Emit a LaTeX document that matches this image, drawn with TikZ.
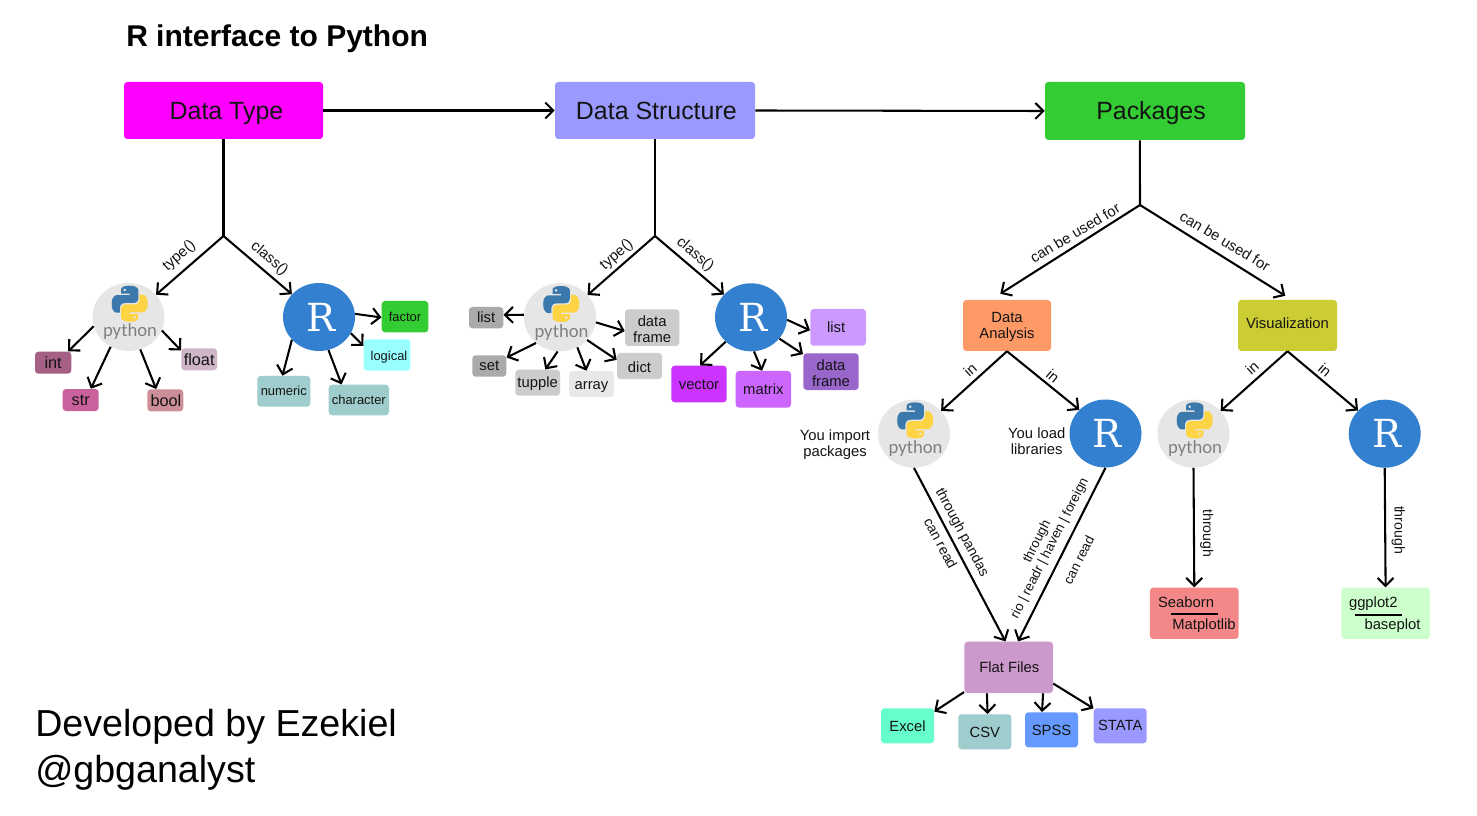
\documentclass[tikz,border=0pt]{standalone}
\usepackage{fontspec}
\setmainfont{Liberation Sans}
\newfontfamily\pyfont{Carlito}
\newfontfamily\rfont{DejaVu Serif}
\usetikzlibrary{arrows.meta,shapes.geometric}
\definecolor{cmag}{HTML}{FF00FF}
\definecolor{cds}{HTML}{9999FF}
\definecolor{cpk}{HTML}{33CC33}
\definecolor{cint}{HTML}{A65F85}
\definecolor{cstr}{HTML}{C9629C}
\definecolor{cbool}{HTML}{CC8F98}
\definecolor{cfloat}{HTML}{CFB5C8}
\definecolor{cteal}{HTML}{9FCCCC}
\definecolor{clog}{HTML}{99FFFF}
\definecolor{cg1}{HTML}{AAAAAA}
\definecolor{cg2}{HTML}{CCCCCC}
\definecolor{cg3}{HTML}{E8E8E8}
\definecolor{cp1}{HTML}{CC99FF}
\definecolor{cp2}{HTML}{CC33FF}
\definecolor{cp3}{HTML}{CC66FF}
\definecolor{cp4}{HTML}{9966CC}
\definecolor{cda}{HTML}{FF9966}
\definecolor{cvis}{HTML}{CCCC33}
\definecolor{cff}{HTML}{CC99CC}
\definecolor{cex}{HTML}{66FFCC}
\definecolor{csp}{HTML}{6699FF}
\definecolor{csea}{HTML}{F48888}
\definecolor{cgg}{HTML}{CCFFCC}
\definecolor{cpyc}{HTML}{E6E6E6}
\definecolor{crc}{HTML}{3380D0}
\definecolor{cpb}{HTML}{3B78AB}
\definecolor{cpy}{HTML}{FFD444}
\definecolor{cink}{HTML}{141414}
\newcommand{\nudge}[2]{\raisebox{#1}[\height][\depth]{#2}}
\tikzset{
  arr/.style={draw=black,line width=1.55pt,-{Straight Barb[length=6pt,width=12pt]}},
  stem/.style={draw=black,line width=1.55pt},
  rulebar/.style={draw=black,line width=1.5pt},
  boxn/.style={rounded corners=2.5pt,inner sep=0pt,text=cink,align=center},
  lab/.style={inner sep=0pt,text=cink,align=center},
  fbig/.style={font=\fontsize{18.7pt}{21pt}\selectfont,text height=13.2pt,text depth=0pt},
  fa/.style={font=\fontsize{12.2pt}{14pt}\selectfont},
  fb/.style={font=\fontsize{11.1pt}{12pt}\selectfont},
  fc/.style={font=\fontsize{9.7pt}{11.5pt}\selectfont},
  fd/.style={font=\fontsize{10.6pt}{12.5pt}\selectfont},
  fe/.style={font=\fontsize{10pt}{12pt}\selectfont},
  ff/.style={font=\fontsize{11.1pt}{12pt}\selectfont},
  pycirc/.style={ellipse,fill=cpyc,inner sep=0pt,minimum width=54pt,minimum height=51pt},
  rcirc/.style={ellipse,fill=crc,inner sep=0pt,minimum width=54pt,minimum height=51pt,text=white,font=\rfont\fontsize{29pt}{30pt}\selectfont},
  pytext/.style={inner sep=0pt,text=black!50,font=\pyfont\fontsize{14pt}{16pt}\selectfont},
  pylogo/.pic={
    \begin{scope}[x=.27pt,y=-.27pt]
      \fill[cpb,even odd rule] (49,0) .. controls (24,0) and (26,11) .. (26,11) -- (26,22) -- (50,22) -- (50,26) -- (16,26)
        .. controls (16,26) and (0,24) .. (0,50) .. controls (0,76) and (14,75) .. (14,75) -- (23,75) -- (23,62)
        .. controls (23,62) and (22,48) .. (37,48) -- (61,48) .. controls (61,48) and (74,48) .. (74,35) -- (74,13)
        .. controls (74,13) and (76,0) .. (49,0) -- cycle
        (36,12) circle [radius=4.5];
      \begin{scope}[rotate around={180:(50,50)}]
      \fill[cpy,even odd rule] (49,0) .. controls (24,0) and (26,11) .. (26,11) -- (26,22) -- (50,22) -- (50,26) -- (16,26)
        .. controls (16,26) and (0,24) .. (0,50) .. controls (0,76) and (14,75) .. (14,75) -- (23,75) -- (23,62)
        .. controls (23,62) and (22,48) .. (37,48) -- (61,48) .. controls (61,48) and (74,48) .. (74,35) -- (74,13)
        .. controls (74,13) and (76,0) .. (49,0) -- cycle
        (36,12) circle [radius=4.5];
      \end{scope}
    \end{scope}
  }
}
% name x0 y0 x1 y1 fill fontstyle text
\newcommand{\bx}[8]{\node[boxn,fill=#6,#7,minimum width={(#4-#2)*0.75pt},minimum height={(#5-#3)*0.75pt}] (#1) at ({(#2+#4)/2},{(#3+#5)/2}) {#8};}
% name x y
\newcommand{\pyn}[3]{\node[pycirc] (#1) at (#2,#3) {};
  \pic at ({#2-16.8},{#3-31.3}) {pylogo};
  \node[pytext] (#1txt) at ({#2+1.5},{#3+15}) {python};}
\newcommand{\rn}[3]{\node[rcirc] (#1) at (#2,#3) {\hspace*{3pt}R};}
% name x y rot style text
\newcommand{\lbl}[6]{\node[lab,#5,rotate=#4] (#1) at (#2,#3) {#6};}
\begin{document}
\begin{tikzpicture}[x=0.75pt,y=-0.75pt]
\useasboundingbox (0,0) rectangle (1477,816);
\fill[white] (0,0) rectangle (1477,816);
\node[inner sep=0pt,anchor=base west,text=black,font=\bfseries\fontsize{22.5pt}{26pt}\selectfont] (title) at (126,47) {R interface to Python};
\node[inner sep=0pt,anchor=base west,align=left,text=black,font=\fontsize{28.2pt}{34.5pt}\selectfont] (credit) at (35,782) {Developed by Ezekiel\\@gbganalyst};

\bx{dtype}{124}{82}{323}{139}{cmag}{fbig}{\hspace*{4.5pt}Data Type}
\bx{dstruct}{555}{82}{755}{139}{cds}{fbig}{\hspace*{2pt}Data Structure}
\bx{pkg}{1045}{82}{1245}{140}{cpk}{fbig}{\hspace*{9pt}Packages}
\coordinate (j1) at (223.5,236);
\coordinate (j2) at (655,236);
\coordinate (j3) at (1140,205);
\draw[arr] (dtype.east) -- (dstruct.west);
\draw[arr] (dstruct.east) -- (pkg.west);
\draw[stem] (dtype.south) -- (j1);
\draw[stem] (dstruct.south) -- (j2);
\draw[stem] (pkg.260.2) -- (j3);

% --- data type
\pyn{pya}{128.5}{317}
\rn{ra}{319}{317}
\bx{int}{35}{351.7}{71.3}{373.7}{cint}{fa}{int}
\bx{str}{62.7}{389}{98.7}{411}{cstr}{fa}{str}
\bx{bool}{147.3}{389.3}{183.3}{411.3}{cbool}{fa}{\hspace*{1pt}bool}
\bx{float}{181.3}{348.3}{217}{370.3}{cfloat}{fa}{float}
\bx{factor}{381.7}{301}{428.3}{332.3}{cpk}{fc}{factor}
\bx{logical}{363.7}{339.3}{410.3}{370.7}{clog}{fc}{\hspace*{3pt}\nudge{-1.5pt}{logical}}
\bx{numeric}{257.3}{376}{310.3}{406.7}{cteal}{fc}{numeric}
\bx{character}{328.7}{384.7}{389}{415.3}{cteal}{fc}{character}
\draw[arr] (j1) -- (pya.39.7);
\draw[arr] (j1) -- (ra.140.8);
\draw[arr] (pya.195.4) -- (int.37.6);
\draw[arr] (pya.239.6) -- (str.48.9);
\draw[arr] (pya.290.9) -- (bool.129.7);
\draw[arr] (pya.-22.7) -- (float.154.2);
\draw[arr] (ra.5.9) -- (factor.182);
\draw[arr] (ra.-27) -- (logical.159.2);
\draw[arr] (ra.220.7) -- (numeric.95);
\draw[arr] (ra.-74.3) -- (character.138.4);
\lbl{ta}{179.3}{256}{41}{fb}{type()}
\lbl{ca}{269.3}{258.5}{-40.5}{fb}{class()}

% --- data structure
\pyn{pyb}{560}{317.3}
\rn{rb}{751}{317.3}
\bx{lista}{469}{307}{503.3}{328.3}{cg1}{fb}{list}
\bx{dfa}{625}{309.3}{679.3}{346}{cg2}{fb}{\rule{0pt}{10.5pt}data\\frame}
\bx{set}{472.3}{355.3}{506.3}{376.7}{cg1}{fb}{set}
\bx{tupple}{515.3}{369.7}{560}{395.7}{cg2}{fb}{\nudge{-.7pt}{tupple}}
\bx{array}{569}{371}{614}{397}{cg3}{fb}{\nudge{-2.2pt}{array}}
\bx{dict}{617}{353}{662}{379}{cg2}{fb}{\nudge{-.7pt}{dict}}
\bx{listb}{810.3}{309}{866}{345.7}{cp1}{fb}{\hspace*{-3pt}list}
\bx{vector}{671.3}{365.7}{726.7}{402.3}{cp2}{fb}{\nudge{-.7pt}{vector}}
\bx{matrix}{735.7}{371}{791}{407.7}{cp3}{fb}{matrix}
\bx{dfb}{803.3}{353.3}{858.7}{390}{cp4}{fb}{\rule{0pt}{10.5pt}data\\frame}
\draw[arr] (j2) -- (pyb.39.6);
\draw[arr] (j2) -- (rb.140.4);
\draw[arr] (pyb.176) -- (lista.9);
\draw[arr] (pyb.-8.5) -- (dfa.187.3);
\draw[arr] (pyb.227) -- (set.26.6);
\draw[arr] (pyb.266.6) -- (tupple.60);
\draw[arr] (pyb.-60.6) -- (array.111);
\draw[arr] (pyb.-40.4) -- (dict.165.9);
\draw[arr] (rb.-4.3) -- (listb.186.7);
\draw[arr] (rb.-37.5) -- (dfb.148.4);
\draw[arr] (rb.224.6) -- (vector.87);
\draw[arr] (rb.-85) -- (matrix.94.7);
\lbl{tb}{616.7}{255}{41}{fb}{type()}
\lbl{cb}{695}{254.3}{-40.5}{fb}{class()}

% --- packages
\bx{da}{963}{300}{1051}{351}{cda}{fb}{\rule{0pt}{10.5pt}Data\\Analysis}
\bx{vis}{1238}{300}{1337}{351}{cvis}{fb}{\nudge{1.5pt}{Visualization}}
\draw[arr,shorten >=8.3pt] (j3) -- (da.122.7);
\draw[arr,shorten >=5.6pt] (j3) -- (vis.81.3);
\lbl{ua}{1075}{233}{31}{ff}{can be used for}
\lbl{ub}{1225}{241}{-31}{ff}{can be used for}
\pyn{pyc}{914}{433.7}
\rn{rc}{1105.5}{433.5}
\pyn{pyd}{1193.5}{433.7}
\rn{rd}{1384.7}{433.7}
\draw[arr] (da.south) -- (pyc.40);
\draw[arr] (da.south) -- (rc.138.6);
\draw[arr] (vis.south) -- (pyd.40.6);
\draw[arr] (vis.south) -- (rd.139.6);
\lbl{ia}{970}{370}{42}{ff}{in}
\lbl{ib}{1053}{376}{-40}{ff}{in}
\lbl{ic}{1252}{368}{42}{ff}{in}
\lbl{id}{1325}{370}{-40}{ff}{in}
\lbl{yi}{835}{444.5}{0}{fb}{You import\\packages}
\lbl{yl}{1036.7}{441}{0}{fb}{You load\\libraries}

\bx{ffile}{964.3}{641.7}{1053}{693}{cff}{fb}{\hspace*{1pt}Flat Files}
\bx{excel}{881}{708.3}{934}{743.3}{cex}{fb}{Excel}
\bx{csv}{958.3}{714.3}{1011.3}{749.3}{cteal}{fb}{\nudge{-.5pt}{CSV}}
\bx{spss}{1025}{712.3}{1078}{747.3}{csp}{fb}{\nudge{-.7pt}{SPSS}}
\bx{stata}{1093.7}{708.3}{1146.7}{743.3}{cds}{fb}{STATA}
\draw[arr] (pyc.south) -- (ffile.97.7);
\draw[arr] (rc.south) -- (ffile.70.2);
\draw[arr] (ffile.209.7) -- (excel.28.8);
\draw[arr] (ffile.230.6) -- (csv.81);
\draw[arr] (ffile.-37.8) -- (spss.118);
\draw[arr] (ffile.-20.7) -- (stata.147.8);
\lbl{tp}{961.7}{532.7}{-62}{fd}{through pandas}
\lbl{cr}{940.7}{543.3}{-62}{fd}{can read}
\lbl{th}{1037.3}{541.7}{63}{fe}{through}
\lbl{rio}{1050}{548.5}{63}{fe}{rio | readr | haven | foreign}
\lbl{crb}{1078.7}{560}{63}{fe}{can read}

\node[boxn,fill=csea,minimum width=66.5pt,minimum height=38.5pt] (sea) at (1194.3,613.3) {};
\node[boxn,fill=cgg,minimum width=66.5pt,minimum height=38.5pt] (gg) at (1385.6,613.3) {};
\draw[arr] (pyd.south) -- (sea.north);
\draw[arr] (rd.south) -- (gg.north);
\lbl{tha}{1206.7}{533.3}{-90}{fd}{through}
\lbl{thb}{1398.3}{530}{-90}{fd}{through}
\lbl{seat}{1186}{602}{0}{fb}{Seaborn}
\lbl{matt}{1204}{626}{0}{fb}{Matplotlib}
\lbl{ggt}{1373.3}{604}{0}{fb}{ggplot2}
\lbl{bast}{1392.5}{626}{0}{fb}{baseplot}
\coordinate (sa) at (1171,613.7);
\coordinate (sb) at (1217.7,613.7);
\coordinate (ga) at (1355.3,615);
\coordinate (gb) at (1401.7,615);
\draw[rulebar] (sa) -- (sb);
\draw[rulebar] (ga) -- (gb);
\end{tikzpicture}
\end{document}
